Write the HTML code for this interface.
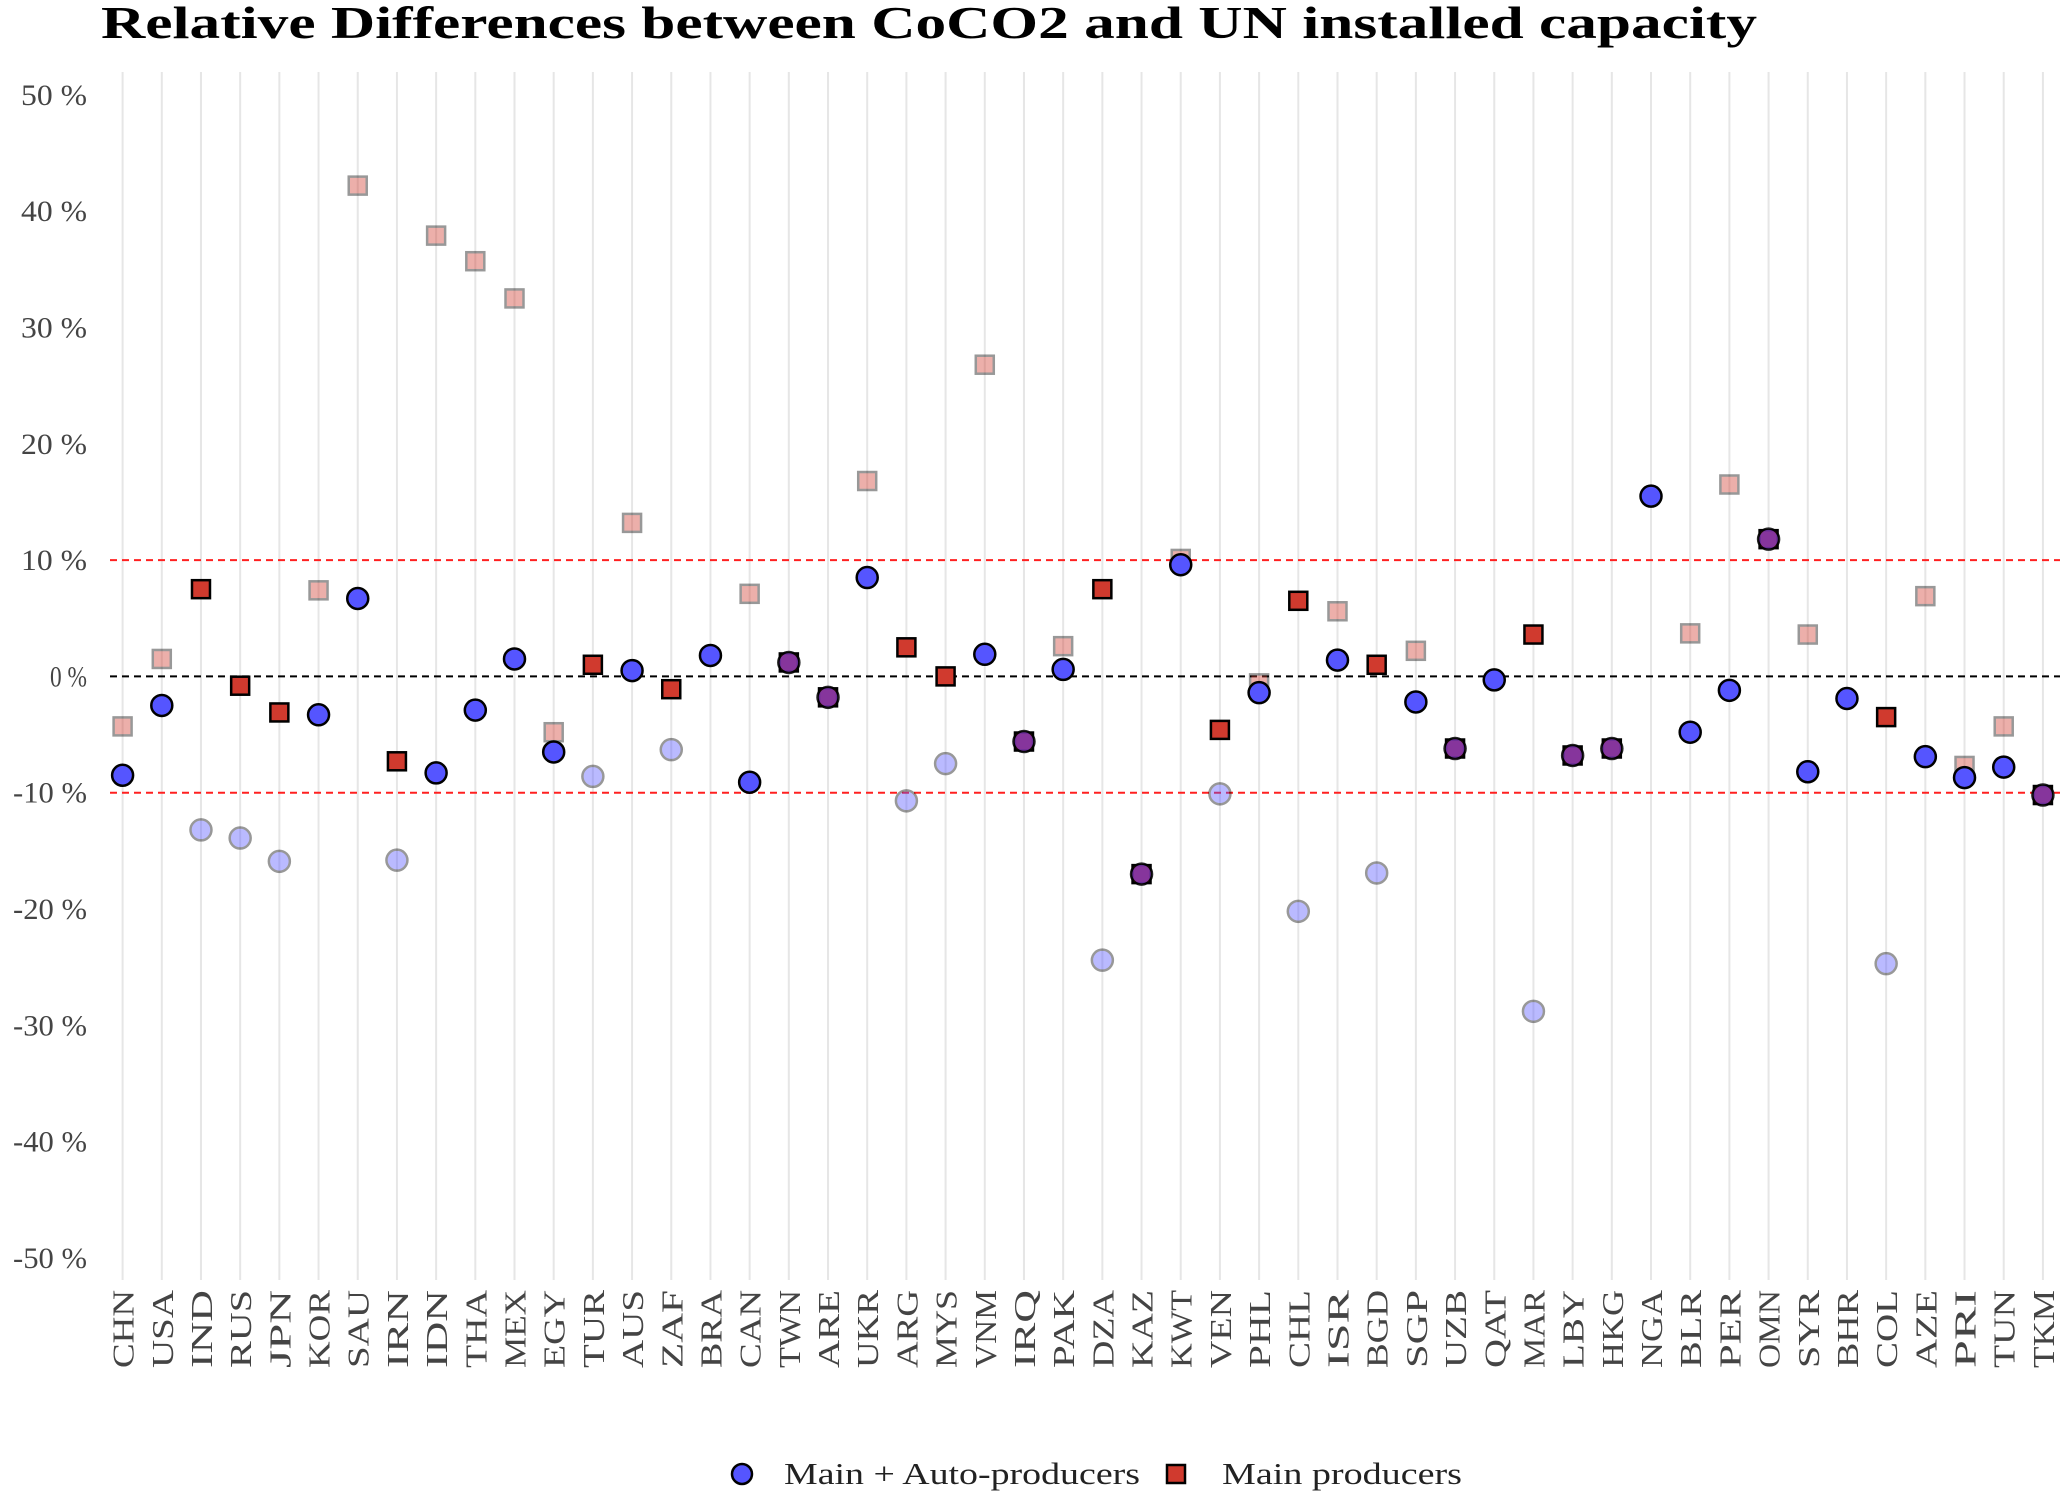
<!DOCTYPE html>
<html><head><meta charset="utf-8"><style>
body{margin:0;background:#fff}
svg{display:block;font-family:"Liberation Serif",serif}
</style></head><body>
<svg id="c" width="2067" height="1494" viewBox="0 0 2067 1494">
<text x="101" y="38" font-size="46" font-weight="bold" fill="#000" textLength="1656" lengthAdjust="spacingAndGlyphs">Relative Differences between CoCO2 and UN installed capacity</text>
<g id="grid"></g><g id="yax"></g><g id="refs"></g><g id="marks"></g><g id="xax"></g>
<g>
<circle cx="742" cy="1474" r="10" fill="#5555ff" stroke="#000" stroke-width="2.5"/>
<text x="784" y="1484" font-size="31" fill="#222" textLength="356" lengthAdjust="spacingAndGlyphs">Main + Auto-producers</text>
<rect x="1167" y="1465" width="18" height="18" fill="#d03a2e" stroke="#000" stroke-width="2.5"/>
<text x="1222" y="1484" font-size="31" fill="#222" textLength="240" lengthAdjust="spacingAndGlyphs">Main producers</text>
</g>
</svg>
<script>
const countries=["CHN","USA","IND","RUS","JPN","KOR","SAU","IRN","IDN","THA","MEX","EGY","TUR","AUS","ZAF","BRA","CAN","TWN","ARE","UKR","ARG","MYS","VNM","IRQ","PAK","DZA","KAZ","KWT","VEN","PHL","CHL","ISR","BGD","SGP","UZB","QAT","MAR","LBY","HKG","NGA","BLR","PER","OMN","SYR","BHR","COL","AZE","PRI","TUN","TKM"];
const circleVals=[-8.5,-2.5,-13.2,-13.9,-15.9,-3.3,6.7,-15.8,-8.3,-2.9,1.5,-6.5,-8.6,0.5,-6.3,1.8,-9.1,1.2,-1.8,8.5,-10.7,-7.5,1.9,-5.6,0.6,-24.4,-17.0,9.6,-10.1,-1.4,-20.2,1.4,-16.9,-2.2,-6.2,-0.3,-28.8,-6.8,-6.2,15.5,-4.8,-1.2,11.8,-8.2,-1.9,-24.7,-6.9,-8.7,-7.8,-10.2];
const squareVals=[-4.3,1.5,7.5,-0.8,-3.1,7.4,42.2,-7.3,37.9,35.7,32.5,-4.8,1.0,13.2,-1.1,null,7.1,1.2,-1.8,16.8,2.5,0,26.8,-5.6,2.6,7.5,-17.0,10.1,-4.6,-0.6,6.5,5.6,1.0,2.2,-6.2,null,3.6,-6.8,-6.2,null,3.7,16.5,11.8,3.6,null,-3.5,6.9,-7.7,-4.3,-10.2];
// primary series per country: c = circle, s = square, b = both
const primary=["c","c","s","s","s","c","c","s","c","c","c","c","s","c","s","c","c","b","b","c","s","s","c","b","c","s","b","c","s","c","s","c","s","c","b","c","s","b","b","c","c","c","b","c","c","s","c","c","c","b"];
const yTicks=[50,40,30,20,10,0,-10,-20,-30,-40,-50];
const NS="http://www.w3.org/2000/svg";
const x=i=>122.6+i*39.19;
const y=v=>676.4-v*11.63;
function mk(t,a,p){const e=document.createElementNS(NS,t);for(const k in a)e.setAttribute(k,a[k]);p.appendChild(e);return e;}
const grid=document.getElementById('grid'),yax=document.getElementById('yax'),refs=document.getElementById('refs'),marks=document.getElementById('marks'),xax=document.getElementById('xax');
countries.forEach((c,i)=>{
  const l=mk('line',{x1:x(i),x2:x(i),y1:72,y2:1280,stroke:'#e6e6e6','stroke-width':2},grid);
  
  
  const t=mk('text',{transform:`translate(${x(i)+11},1290) rotate(-90)`,'text-anchor':'end','font-size':31,fill:'#444',textLength:c.length*26,lengthAdjust:'spacingAndGlyphs'},xax);
  t.textContent=c;
  
  
});
yTicks.forEach(v=>{
  const s=v+' %';
  const w=(v===0?37:66)+(v<0?8:0);
  const t=mk('text',{x:87,y:y(v)+10,'text-anchor':'end','font-size':30,fill:'#444',textLength:w,lengthAdjust:'spacingAndGlyphs'},yax);
  t.textContent=s;
  
  
});
[[10,'#ff2020'],[0,'#000'],[-10,'#ff2020']].forEach(([v,col])=>{
  const l=mk('line',{x1:110,x2:2060,y1:y(v),y2:y(v),stroke:col,'stroke-width':2,'stroke-dasharray':'7,5'},refs);
  
  
});
countries.forEach((c,i)=>{
  const p=primary[i];
  const sv=squareVals[i],cv=circleVals[i];
  if(sv!==null){
    const op=(p==='s'||p==='b')?1:0.4;
    const r=mk('rect',{x:x(i)-9,y:y(sv)-9,width:18,height:18,fill:'#d03a2e',stroke:'#000','stroke-width':2.5,opacity:op},marks);
    
    
  }
  if(cv!==null){
    const op=p==='c'?1:(p==='b'?0.85:0.4);
    const fill=p==='b'?'#7a35b0':'#5555ff';
    const e=mk('circle',{cx:x(i),cy:y(cv),r:10.5,fill:fill,stroke:'#000','stroke-width':2.5,opacity:op},marks);
    
    
  }
});
</script>
</body></html>
